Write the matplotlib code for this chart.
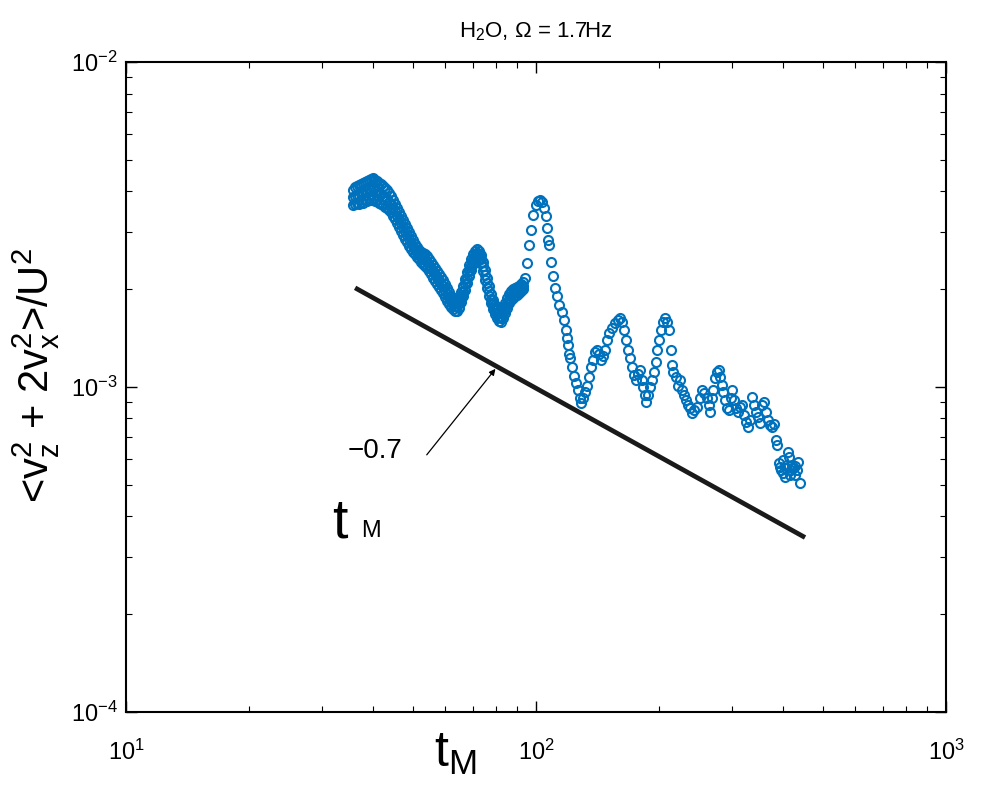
import numpy as np
import matplotlib
matplotlib.use("Agg")
from matplotlib import pyplot as plt

plt.rcParams['font.family'] = ['Liberation Sans Narrow', 'Liberation Sans', 'DejaVu Sans']
plt.rcParams['mathtext.default'] = 'regular'

# dense early part of the record: time and three tracks of the band (x1e-3)
t_early = [35.78, 36.19, 36.60, 37.01, 37.43, 37.85, 38.28, 38.71, 39.15, 39.59,
           40.04, 40.49, 40.95, 41.41, 41.88, 42.35, 42.83, 43.31, 43.80, 44.29,
           44.79, 45.30, 45.81, 46.33, 46.85, 47.38, 47.92, 48.46, 49.00, 49.56,
           50.12, 50.69, 51.26, 51.84, 52.42, 53.02, 53.62, 54.22, 54.83, 55.45,
           56.08, 56.71, 57.35, 58.00, 58.66, 59.32, 59.99, 60.67, 61.36, 62.05,
           62.75, 63.46, 64.17, 64.90, 65.63, 66.37, 67.12, 67.88, 68.65, 69.42,
           70.21, 71.00, 71.80, 72.61, 73.43, 74.26, 75.10, 75.95, 76.81, 77.68,
           78.55, 79.44, 80.34, 81.25, 82.17, 83.09, 84.03, 84.98, 85.94, 86.91,
           87.89, 88.88, 89.89, 90.90, 91.93, 92.97]
v_upper = [4.04, 4.12, 4.15, 4.18, 4.21, 4.24, 4.27, 4.30, 4.33, 4.37,
           4.40, 4.33, 4.30, 4.24, 4.21, 4.15, 4.10, 4.04, 3.95, 3.87,
           3.76, 3.66, 3.56, 3.46, 3.36, 3.27, 3.17, 3.09, 3.00, 2.92,
           2.83, 2.76, 2.70, 2.64, 2.60, 2.59, 2.57, 2.53, 2.48, 2.43,
           2.37, 2.33, 2.28, 2.23, 2.18, 2.14, 2.08, 2.02, 1.96, 1.91,
           1.87, 1.84, 1.83, 1.88, 1.96, 2.05, 2.15, 2.26, 2.37, 2.48,
           2.57, 2.62, 2.66, 2.62, 2.55, 2.43, 2.29, 2.17, 2.05, 1.93,
           1.85, 1.79, 1.74, 1.70, 1.69, 1.75, 1.81, 1.88, 1.93, 1.98,
           2.00, 2.02, 2.03, 2.05, 2.08, 2.11]
v_mid = [3.83, 3.88, 3.91, 3.91, 3.95, 3.95, 4.01, 4.01, 4.05, 4.05,
         4.08, 4.02, 4.02, 3.95, 3.93, 3.88, 3.83, 3.79, 3.72, 3.66,
         3.56, 3.47, 3.37, 3.28, 3.19, 3.10, 3.01, 2.94, 2.85, 2.78,
         2.72, 2.66, 2.60, 2.56, 2.51, 2.49, 2.46, 2.43, 2.37, 2.33,
         2.27, 2.22, 2.17, 2.13, 2.08, 2.04, 1.98, 1.93, 1.88, 1.83,
         1.80, 1.78, 1.77, 1.81, 1.89, 1.98, 2.07, 2.17, 2.28, 2.38,
         2.48, 2.54, 2.59, 2.56, 2.48, 2.35, 2.21, 2.09, 1.98, 1.87,
         1.80, 1.73, 1.68, 1.64, 1.63, 1.69, 1.75, 1.81, 1.87, 1.91,
         1.94, 1.96, 1.98, 2.00, 2.02, 2.05]
v_lower = [3.63, 3.66, 3.68, 3.66, 3.71, 3.68, 3.76, 3.74, 3.79, 3.76,
           3.79, 3.74, 3.76, 3.68, 3.66, 3.63, 3.58, 3.56, 3.51, 3.46,
           3.36, 3.29, 3.20, 3.11, 3.02, 2.94, 2.85, 2.79, 2.72, 2.66,
           2.60, 2.57, 2.51, 2.48, 2.43, 2.39, 2.36, 2.33, 2.28, 2.23,
           2.17, 2.12, 2.08, 2.03, 1.99, 1.95, 1.89, 1.84, 1.80, 1.76,
           1.74, 1.71, 1.71, 1.75, 1.83, 1.91, 1.99, 2.09, 2.20, 2.29,
           2.39, 2.46, 2.51, 2.50, 2.41, 2.28, 2.14, 2.02, 1.91, 1.81,
           1.74, 1.68, 1.63, 1.60, 1.59, 1.63, 1.69, 1.75, 1.81, 1.85,
           1.88, 1.91, 1.92, 1.95, 1.98, 2.00]

# sparser late part of the record (x1e-3)
t_late = [94.0, 95.1, 96.1, 97.2, 98.3, 100.0, 101.1, 102.3, 103.4, 104.6,
          105.8, 106.4, 107.0, 107.6, 108.8, 110.1, 111.3, 112.6, 113.9, 115.9,
          117.2, 118.3, 119.0, 119.7, 120.3, 121.0, 122.4, 123.8, 125.2, 126.6,
          128.0, 128.8, 130.2, 131.7, 133.2, 134.7, 136.2, 137.8, 139.3, 140.9,
          142.5, 144.1, 145.7, 147.4, 149.0, 150.7, 153.3, 155.8, 158.5, 160.3,
          162.1, 164.0, 165.8, 167.7, 169.6, 171.5, 173.4, 175.4, 177.4, 179.4,
          181.4, 182.5, 184.5, 185.6, 187.7, 189.7, 191.9, 194.0, 196.2, 197.3,
          199.5, 201.8, 204.1, 206.4, 208.7, 211.1, 213.5, 214.7, 215.9, 219.6,
          222.0, 224.5, 227.1, 229.6, 232.2, 234.8, 237.5, 240.2, 242.9, 247.1,
          251.2, 254.1, 257.0, 261.3, 264.2, 265.7, 268.7, 270.2, 273.3, 276.4,
          279.5, 281.1, 284.3, 285.9, 289.1, 292.4, 295.7, 299.0, 300.7, 304.1,
          307.5, 311.0, 314.5, 318.1, 321.7, 325.3, 329.0, 332.7, 336.4, 340.2,
          344.1, 348.0, 351.8, 355.8, 359.8, 363.9, 368.0, 372.2, 376.4, 380.7,
          384.9, 387.1, 391.5, 393.7, 395.9, 400.4, 400.4, 404.9, 407.1, 409.4,
          411.7, 414.0, 416.4, 418.8, 421.1, 423.5, 428.3, 428.3, 433.1, 435.6,
          440.5]
v_late = [2.17, 2.41, 2.74, 3.04, 3.38, 3.63, 3.74, 3.76, 3.71, 3.56,
          3.36, 3.09, 2.83, 2.74, 2.43, 2.20, 2.02, 1.91, 1.79, 1.70,
          1.61, 1.50, 1.42, 1.35, 1.26, 1.23, 1.15, 1.08, 1.03, 0.98,
          0.925, 0.893, 0.925, 0.965, 1.01, 1.07, 1.15, 1.21, 1.28, 1.30,
          1.26, 1.21, 1.25, 1.30, 1.40, 1.47, 1.52, 1.57, 1.61, 1.63,
          1.59, 1.50, 1.40, 1.30, 1.23, 1.15, 1.09, 1.05, 1.10, 1.13,
          1.05, 1.00, 0.945, 0.899, 0.945, 1.00, 1.05, 1.11, 1.19, 1.30,
          1.40, 1.50, 1.59, 1.63, 1.59, 1.50, 1.30, 1.17, 1.11, 1.07,
          1.01, 1.05, 0.979, 0.945, 0.912, 0.880, 0.862, 0.832, 0.850, 0.868,
          0.925, 0.979, 0.958, 0.925, 0.880, 0.838, 0.925, 0.979, 1.066, 1.112,
          1.128, 1.074, 1.014, 0.965, 0.912, 0.862, 0.850, 0.925, 0.979, 0.912,
          0.862, 0.838, 0.868, 0.880, 0.820, 0.781, 0.754, 0.792, 0.932, 0.880,
          0.838, 0.809, 0.775, 0.880, 0.899, 0.838, 0.792, 0.764, 0.754, 0.770,
          0.687, 0.663, 0.583, 0.567, 0.555, 0.544, 0.596, 0.529, 0.563, 0.575,
          0.633, 0.607, 0.536, 0.555, 0.575, 0.563, 0.571, 0.536, 0.555, 0.588,
          0.507]

# power-law reference line  C * t^slope
slope = -0.7
amp = 0.0249
t_fit = [36.2, 453.0]
t_arrow = 80.4

t_all = np.concatenate([t_early, t_early, t_early, t_late])
v_all = np.concatenate([v_upper, v_mid, v_lower, v_late]) * 1e-3

fig = plt.figure(figsize=(9.83, 7.94), dpi=100)
ax = fig.add_axes([0.1282, 0.1033, 0.8342, 0.8186])

ax.plot(t_all, v_all, 'o', mfc='none', mec='#0072BD', ms=6.5, mew=1.5)

tf = np.array(t_fit)
ax.plot(tf, amp * tf ** slope, color='#1a1a1a', lw=3.4, solid_capstyle='butt')

ax.set_xscale('log')
ax.set_yscale('log')
ax.set_xlim(10, 1000)
ax.set_ylim(1e-4, 1e-2)

ax.tick_params(which='both', direction='in', top=True, right=True, labelsize=17)
ax.tick_params(which='major', length=8, width=1)
ax.tick_params(which='minor', length=4.5, width=0.8)
ax.tick_params(axis='x', pad=20)
ax.tick_params(axis='y', pad=6)
for s in ax.spines.values():
    s.set_linewidth(1.5)

ax.set_title('H$_2$O, $\\Omega$ = 1.7Hz', fontsize=16, pad=18)
ax.set_xlabel('$t_M$', fontsize=36)
ax.xaxis.set_label_coords(0.401, -0.03)
ax.set_ylabel('<$v_z^2$ + 2$v_x^2$>/$U^2$', fontsize=30)
ax.yaxis.set_label_coords(-0.078, 0.518)

ax.annotate('', xy=(t_arrow, amp * t_arrow ** slope), xytext=(0.3646, 0.3923),
            textcoords='axes fraction',
            arrowprops=dict(arrowstyle='-|>', color='k', lw=0.9, mutation_scale=9))
ax.text(0.3037, 0.4015, '\u22120.7', transform=ax.transAxes, fontsize=20,
        ha='center', va='center')
ax.text(0.261, 0.29, 't', transform=ax.transAxes, fontsize=40,
        ha='center', va='center')
ax.text(0.299, 0.278, 'M', transform=ax.transAxes, fontsize=17,
        ha='center', va='center')

fig.savefig('out.png', dpi=100)
